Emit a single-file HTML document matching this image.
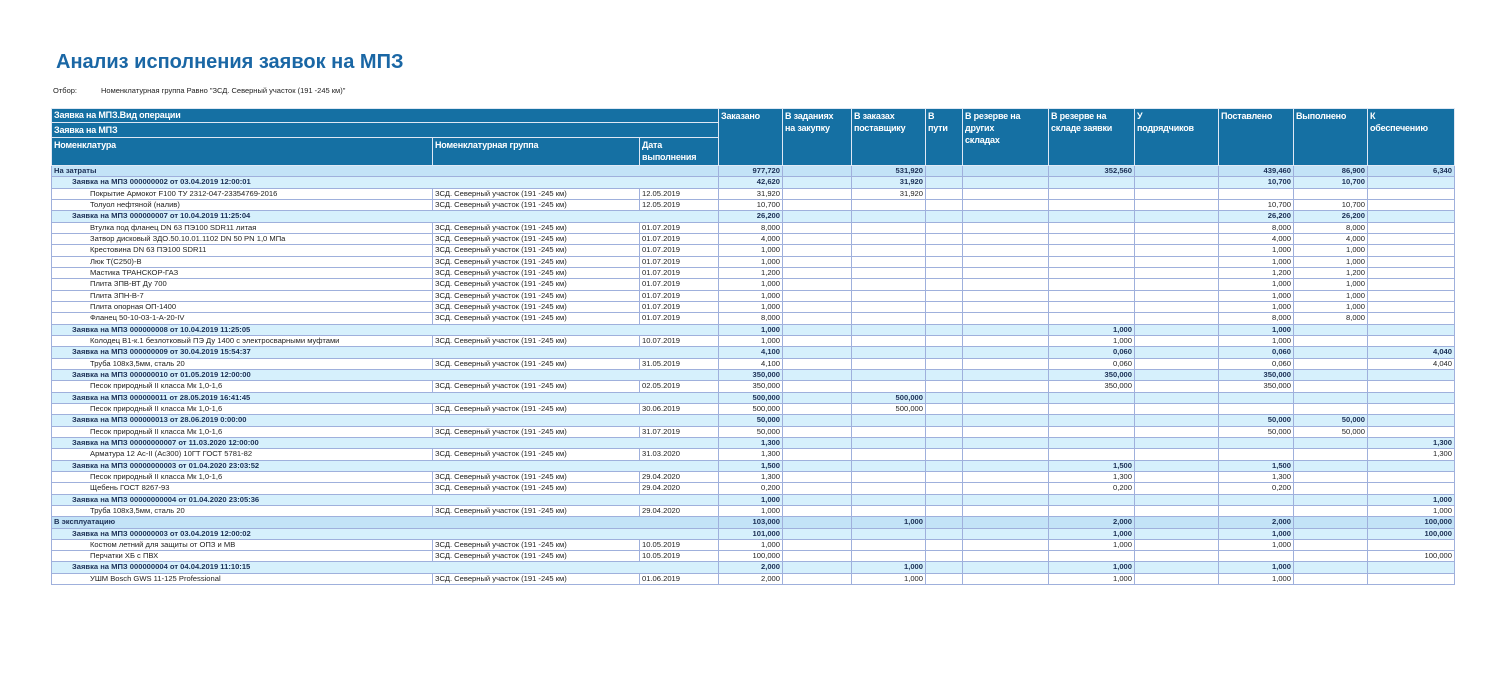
<!DOCTYPE html>
<html><head><meta charset="utf-8"><style>
body{margin:0;width:1500px;height:675px;background:#fff;font-family:"Liberation Sans",Arial,sans-serif;position:relative;overflow:hidden}
h1{position:absolute;left:56px;top:51px;margin:0;font-size:20px;color:#1a67a5;font-weight:bold}
.sel{position:absolute;left:53px;top:86px;font-size:7.5px;color:#222}
.sel span{margin-left:24px}
table{position:absolute;left:51px;top:108px;border-collapse:collapse;table-layout:fixed;width:1403px;font-size:7.6px}
td,th{padding:0 2px;overflow:hidden;white-space:nowrap;height:10.33px;line-height:10.33px;border:1px solid #9fb0dc}
th{background:#1570a3;color:#fff;text-align:left;vertical-align:top;font-size:9px;border:1px solid #dfe8f4;line-height:12px;white-space:nowrap;padding:1px 2px;letter-spacing:-0.2px}
td.n{text-align:right}
tr.l0 td{background:#c3e3f7;font-weight:bold;color:#1b2f55}
tr.l1 td{background:#d6f0fc;font-weight:bold;color:#1b2f55}
tr.l2 td{background:#fff;color:#222}
</style></head><body>
<h1>Анализ исполнения заявок на МПЗ</h1>
<div class="sel">Отбор:<span>Номенклатурная группа Равно "ЗСД. Северный участок (191 -245 км)"</span></div>
<table id="t">
<colgroup><col style="width:381px"><col style="width:207px"><col style="width:79px"><col style="width:64px"><col style="width:69px"><col style="width:74px"><col style="width:37px"><col style="width:86px"><col style="width:86px"><col style="width:84px"><col style="width:75px"><col style="width:74px"><col style="width:87px"></colgroup>
<tr style="height:13px"><th colspan="3" style="height:11px;line-height:11px">Заявка на МПЗ.Вид операции</th><th rowspan="3">Заказано</th><th rowspan="3">В заданиях<br>на закупку</th><th rowspan="3">В заказах<br>поставщику</th><th rowspan="3">В<br>пути</th><th rowspan="3">В резерве на<br>других<br>складах</th><th rowspan="3">В резерве на<br>складе заявки</th><th rowspan="3">У<br>подрядчиков</th><th rowspan="3">Поставлено</th><th rowspan="3">Выполнено</th><th rowspan="3">К<br>обеспечению</th></tr>
<tr><th colspan="3" style="height:12px;line-height:12px">Заявка на МПЗ</th></tr>
<tr><th style="height:25px">Номенклатура</th><th>Номенклатурная группа</th><th>Дата<br>выполнения</th></tr>
</table>
<script>
var G="ЗСД. Северный участок (191 -245 км)";
var R=[
[0,"На затраты","","","977,720","","531,920","","","352,560","","439,460","86,900","6,340"],
[1,"Заявка на МПЗ 000000002 от 03.04.2019 12:00:01","","","42,620","","31,920","","","","","10,700","10,700",""],
[2,"Покрытие Армокот F100 ТУ 2312-047-23354769-2016",G,"12.05.2019","31,920","","31,920","","","","","","",""],
[2,"Толуол нефтяной (налив)",G,"12.05.2019","10,700","","","","","","","10,700","10,700",""],
[1,"Заявка на МПЗ 000000007 от 10.04.2019 11:25:04","","","26,200","","","","","","","26,200","26,200",""],
[2,"Втулка под фланец DN 63 ПЭ100 SDR11 литая",G,"01.07.2019","8,000","","","","","","","8,000","8,000",""],
[2,"Затвор дисковый ЗДО.50.10.01.1102 DN 50 PN 1,0 МПа",G,"01.07.2019","4,000","","","","","","","4,000","4,000",""],
[2,"Крестовина DN 63 ПЭ100 SDR11",G,"01.07.2019","1,000","","","","","","","1,000","1,000",""],
[2,"Люк Т(С250)-В",G,"01.07.2019","1,000","","","","","","","1,000","1,000",""],
[2,"Мастика ТРАНСКОР-ГАЗ",G,"01.07.2019","1,200","","","","","","","1,200","1,200",""],
[2,"Плита ЗПВ-ВТ Ду 700",G,"01.07.2019","1,000","","","","","","","1,000","1,000",""],
[2,"Плита ЗПН-В-7",G,"01.07.2019","1,000","","","","","","","1,000","1,000",""],
[2,"Плита опорная ОП-1400",G,"01.07.2019","1,000","","","","","","","1,000","1,000",""],
[2,"Фланец 50-10-03-1-А-20-IV",G,"01.07.2019","8,000","","","","","","","8,000","8,000",""],
[1,"Заявка на МПЗ 000000008 от 10.04.2019 11:25:05","","","1,000","","","","","1,000","","1,000","",""],
[2,"Колодец В1-к.1 безлотковый ПЭ Ду 1400 с электросварными муфтами",G,"10.07.2019","1,000","","","","","1,000","","1,000","",""],
[1,"Заявка на МПЗ 000000009 от 30.04.2019 15:54:37","","","4,100","","","","","0,060","","0,060","","4,040"],
[2,"Труба 108х3,5мм, сталь 20",G,"31.05.2019","4,100","","","","","0,060","","0,060","","4,040"],
[1,"Заявка на МПЗ 000000010 от 01.05.2019 12:00:00","","","350,000","","","","","350,000","","350,000","",""],
[2,"Песок природный II класса Мк 1,0-1,6",G,"02.05.2019","350,000","","","","","350,000","","350,000","",""],
[1,"Заявка на МПЗ 000000011 от 28.05.2019 16:41:45","","","500,000","","500,000","","","","","","",""],
[2,"Песок природный II класса Мк 1,0-1,6",G,"30.06.2019","500,000","","500,000","","","","","","",""],
[1,"Заявка на МПЗ 000000013 от 28.06.2019 0:00:00","","","50,000","","","","","","","50,000","50,000",""],
[2,"Песок природный II класса Мк 1,0-1,6",G,"31.07.2019","50,000","","","","","","","50,000","50,000",""],
[1,"Заявка на МПЗ 00000000007 от 11.03.2020 12:00:00","","","1,300","","","","","","","","","1,300"],
[2,"Арматура 12 Ас-II (Ас300) 10ГТ ГОСТ 5781-82",G,"31.03.2020","1,300","","","","","","","","","1,300"],
[1,"Заявка на МПЗ 00000000003 от 01.04.2020 23:03:52","","","1,500","","","","","1,500","","1,500","",""],
[2,"Песок природный II класса Мк 1,0-1,6",G,"29.04.2020","1,300","","","","","1,300","","1,300","",""],
[2,"Щебень ГОСТ 8267-93",G,"29.04.2020","0,200","","","","","0,200","","0,200","",""],
[1,"Заявка на МПЗ 00000000004 от 01.04.2020 23:05:36","","","1,000","","","","","","","","","1,000"],
[2,"Труба 108х3,5мм, сталь 20",G,"29.04.2020","1,000","","","","","","","","","1,000"],
[0,"В эксплуатацию","","","103,000","","1,000","","","2,000","","2,000","","100,000"],
[1,"Заявка на МПЗ 000000003 от 03.04.2019 12:00:02","","","101,000","","","","","1,000","","1,000","","100,000"],
[2,"Костюм летний для защиты от ОПЗ и МВ",G,"10.05.2019","1,000","","","","","1,000","","1,000","",""],
[2,"Перчатки ХБ с ПВХ",G,"10.05.2019","100,000","","","","","","","","","100,000"],
[1,"Заявка на МПЗ 000000004 от 04.04.2019 11:10:15","","","2,000","","1,000","","","1,000","","1,000","",""],
[2,"УШМ Bosch GWS 11-125 Professional",G,"01.06.2019","2,000","","1,000","","","1,000","","1,000","",""]
];
var h="";
R.forEach(function(r){
 var lv=r[0],pad=[2,20,38][lv];
 h+='<tr class="l'+lv+'">';
 if(lv<2) h+='<td colspan="3" style="padding-left:'+pad+'px">'+r[1]+'</td>';
 else h+='<td style="padding-left:'+pad+'px">'+r[1]+'</td><td>'+r[2]+'</td><td>'+r[3]+'</td>';
 for(var i=4;i<14;i++) h+='<td class="n">'+r[i]+'</td>';
 h+='</tr>';
});
document.getElementById('t').insertAdjacentHTML('beforeend',h);
</script>
</body></html>
